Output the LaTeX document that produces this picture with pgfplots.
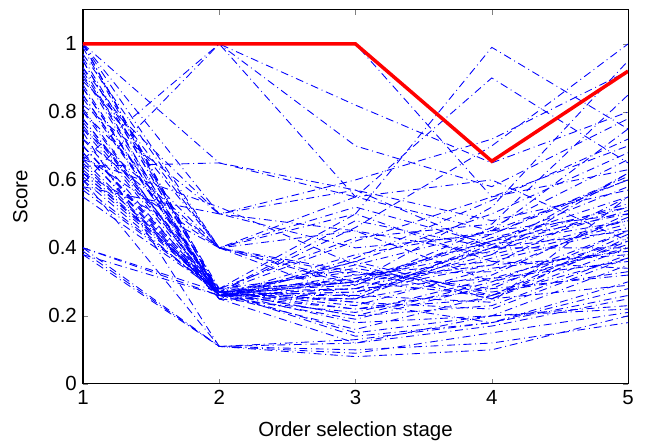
\documentclass[border=0pt]{standalone}
\usepackage{pgfplots}
\pgfplotsset{compat=1.18}
\usepackage{fontspec}
\setmainfont{Liberation Sans}
\definecolor{mblue}{RGB}{0,0,255}
\definecolor{mred}{RGB}{255,0,0}
\tikzset{
  run/.style={mblue, line width=0.5pt, dash pattern=on 4.5pt off 2.2pt on 0.5pt off 2.2pt},
}
\begin{document}
\begin{tikzpicture}
\begin{axis}[
  scale only axis, width=312pt, height=214pt,
  xmin=1, xmax=5, ymin=0, ymax=1.1,
  xtick={1,2,3,4,5}, ytick={0,0.2,0.4,0.6,0.8,1},
  yticklabels={0,0.2,0.4,0.6,0.8,1},
  tick align=inside, tick pos=both, major tick length=3pt,
  axis line style={black, line width=0.6pt},
  font=\fontsize{11.7}{13.5}\selectfont,
  /pgf/number format/assume math mode=true,
  xlabel={Order selection stage}, ylabel={Score},
  xlabel style={yshift=-3pt}, ylabel style={yshift=5pt},
  clip=true,
]
\addplot[run] coordinates {(1,1.00) (2,0.27) (3,0.30) (4,0.42) (5,0.55)};
\addplot[run] coordinates {(1,1.00) (2,0.26) (3,0.22) (4,0.25) (5,0.40)};
\addplot[run] coordinates {(1,1.00) (2,0.40) (3,0.33) (4,0.28) (5,0.45)};
\addplot[run] coordinates {(1,1.00) (2,0.50) (3,0.45) (4,0.38) (5,0.62)};
\addplot[run] coordinates {(1,1.00) (2,0.65) (3,0.55) (4,0.45) (5,0.75)};
\addplot[run] coordinates {(1,0.95) (2,0.27) (3,0.18) (4,0.20) (5,0.35)};
\addplot[run] coordinates {(1,0.93) (2,0.25) (3,0.25) (4,0.32) (5,0.50)};
\addplot[run] coordinates {(1,0.90) (2,0.40) (3,0.52) (4,0.41) (5,0.48)};
\addplot[run] coordinates {(1,0.88) (2,0.26) (3,0.30) (4,0.26) (5,0.42)};
\addplot[run] coordinates {(1,0.85) (2,0.27) (3,0.14) (4,0.18) (5,0.30)};
\addplot[run] coordinates {(1,0.82) (2,0.50) (3,0.57) (4,0.40) (5,0.52)};
\addplot[run] coordinates {(1,0.80) (2,0.26) (3,0.35) (4,0.45) (5,0.60)};
\addplot[run] coordinates {(1,0.78) (2,0.28) (3,0.24) (4,0.22) (5,0.37)};
\addplot[run] coordinates {(1,0.76) (2,0.27) (3,0.20) (4,0.30) (5,0.45)};
\addplot[run] coordinates {(1,0.75) (2,0.40) (3,0.30) (4,0.35) (5,0.55)};
\addplot[run] coordinates {(1,0.72) (2,0.26) (3,0.28) (4,0.40) (5,0.40)};
\addplot[run] coordinates {(1,0.70) (2,0.27) (3,0.42) (4,0.55) (5,0.70)};
\addplot[run] coordinates {(1,0.68) (2,0.25) (3,0.12) (4,0.17) (5,0.25)};
\addplot[run] coordinates {(1,0.66) (2,1.00) (3,0.82) (4,0.65) (5,0.80)};
\addplot[run] coordinates {(1,0.65) (2,0.26) (3,0.27) (4,0.35) (5,0.38)};
\addplot[run] coordinates {(1,0.64) (2,0.28) (3,0.33) (4,0.25) (5,0.43)};
\addplot[run] coordinates {(1,0.62) (2,0.40) (3,0.50) (4,0.99) (5,0.75)};
\addplot[run] coordinates {(1,0.61) (2,0.27) (3,0.15) (4,0.20) (5,0.22)};
\addplot[run] coordinates {(1,0.60) (2,0.26) (3,0.38) (4,0.45) (5,0.50)};
\addplot[run] coordinates {(1,0.59) (2,1.00) (3,0.55) (4,0.90) (5,0.65)};
\addplot[run] coordinates {(1,0.58) (2,0.50) (3,0.60) (4,0.72) (5,0.92)};
\addplot[run] coordinates {(1,0.57) (2,0.27) (3,0.22) (4,0.28) (5,0.32)};
\addplot[run] coordinates {(1,0.40) (2,0.11) (3,0.08) (4,0.10) (5,0.20)};
\addplot[run] coordinates {(1,0.39) (2,0.11) (3,0.10) (4,0.12) (5,0.18)};
\addplot[run] coordinates {(1,0.38) (2,0.26) (3,0.28) (4,0.38) (5,0.48)};
\addplot[run] coordinates {(1,0.38) (2,0.11) (3,0.13) (4,0.18) (5,0.28)};
\addplot[run] coordinates {(1,0.40) (2,0.27) (3,0.31) (4,0.42) (5,0.58)};
\addplot[run] coordinates {(1,1.00) (2,1.00) (3,1.00) (4,0.55) (5,0.63)};
\addplot[run] coordinates {(1,1.00) (2,1.00) (3,0.70) (4,0.58) (5,0.78)};
\addplot[run] coordinates {(1,0.92) (2,0.26) (3,0.25) (4,0.40) (5,0.62)};
\addplot[run] coordinates {(1,0.97) (2,0.40) (3,0.45) (4,0.30) (5,0.40)};
\addplot[run] coordinates {(1,0.87) (2,0.27) (3,0.26) (4,0.24) (5,0.55)};
\addplot[run] coordinates {(1,0.81) (2,0.25) (3,0.36) (4,0.50) (5,0.68)};
\addplot[run] coordinates {(1,0.74) (2,0.11) (3,0.12) (4,0.20) (5,0.23)};
\addplot[run] coordinates {(1,0.70) (2,0.26) (3,0.32) (4,0.36) (5,0.34)};
\addplot[run] coordinates {(1,0.67) (2,0.40) (3,0.25) (4,0.42) (5,0.50)};
\addplot[run] coordinates {(1,0.63) (2,0.27) (3,0.48) (4,0.40) (5,0.45)};
\addplot[run] coordinates {(1,0.66) (2,0.52) (3,0.35) (4,0.25) (5,0.29)};
\addplot[run] coordinates {(1,0.84) (2,0.27) (3,0.20) (4,0.23) (5,0.38)};
\addplot[run] coordinates {(1,0.99) (2,0.26) (3,0.16) (4,0.26) (5,0.44)};
\addplot[run] coordinates {(1,0.96) (2,0.28) (3,0.30) (4,0.43) (5,0.52)};
\addplot[run] coordinates {(1,0.78) (2,0.26) (3,0.27) (4,0.37) (5,0.47)};
\addplot[run] coordinates {(1,0.72) (2,0.40) (3,0.55) (4,0.60) (5,0.42)};
\addplot[run] coordinates {(1,0.60) (2,0.11) (3,0.09) (4,0.15) (5,0.21)};
\addplot[run] coordinates {(1,0.89) (2,0.50) (3,0.40) (4,0.44) (5,0.60)};
\addplot[run] coordinates {(1,0.62) (2,0.27) (3,0.23) (4,0.34) (5,0.39)};
\addplot[run] coordinates {(1,0.91) (2,0.25) (3,0.21) (4,0.31) (5,0.36)};
\addplot[run] coordinates {(1,0.80) (2,0.40) (3,0.29) (4,0.46) (5,0.66)};
\addplot[run] coordinates {(1,1.00) (2,0.27) (3,0.34) (4,0.27) (5,0.33)};
\addplot[run] coordinates {(1,0.68) (2,0.26) (3,0.19) (4,0.29) (5,0.41)};
\addplot[run] coordinates {(1,0.77) (2,0.28) (3,0.50) (4,0.36) (5,0.46)};
\addplot[run] coordinates {(1,0.64) (2,0.65) (3,0.57) (4,0.48) (5,0.57)};
\addplot[run] coordinates {(1,0.85) (2,0.26) (3,0.31) (4,0.39) (5,0.51)};
\addplot[run] coordinates {(1,0.95) (2,0.27) (3,0.24) (4,0.18) (5,0.26)};
\addplot[run] coordinates {(1,0.70) (2,0.25) (3,0.37) (4,0.54) (5,0.72)};
\addplot[run] coordinates {(1,0.58) (2,0.27) (3,0.29) (4,0.44) (5,0.61)};
\addplot[run] coordinates {(1,0.93) (2,0.40) (3,0.32) (4,0.33) (5,0.49)};
\addplot[run] coordinates {(1,0.75) (2,0.26) (3,0.26) (4,0.41) (5,0.53)};
\addplot[run] coordinates {(1,0.62) (2,0.28) (3,0.43) (4,0.47) (5,0.85)};
\addplot[run] coordinates {(1,0.87) (2,0.27) (3,0.28) (4,0.31) (5,0.42)};
\addplot[run] coordinates {(1,0.40) (2,0.26) (3,0.36) (4,0.26) (5,0.37)};
\addplot[run] coordinates {(1,0.66) (2,0.26) (3,0.30) (4,0.52) (5,0.95)};
\addplot[run] coordinates {(1,0.55) (2,0.27) (3,0.46) (4,0.70) (5,1.00)};
\addplot[mred, line width=2pt] coordinates {(1,1) (2,1) (3,1) (4,0.655) (5,0.92)};
\end{axis}
\path (current axis.south west) ++(-47.5pt,-33pt) (current axis.north east) ++(9.7pt,5.7pt);
\end{tikzpicture}
\end{document}
